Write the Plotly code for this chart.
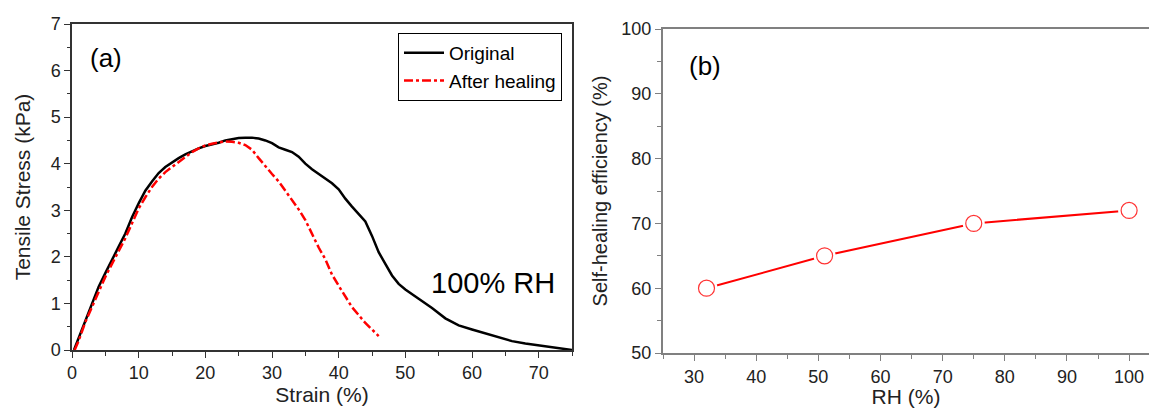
import plotly.graph_objects as go

# ---- Panel (a) data: tensile stress-strain curves ----
orig_strain = [0.3, 1, 2, 3, 4, 5, 6, 7, 8, 9, 10, 11, 12, 13, 14, 15, 16, 17, 18, 19, 20,
               21, 22, 23, 24, 25, 26, 27, 28, 29, 30, 31, 32, 33, 34, 35, 36, 37, 38, 39, 40,
               41, 42, 43, 44, 45, 46, 47, 48, 49, 50, 52, 54, 56, 58, 60, 62, 64, 66, 68,
               70, 72, 75]
orig_stress = [0.0, 0.25, 0.62, 1.0, 1.36, 1.65, 1.95, 2.22, 2.5, 2.85, 3.15, 3.42, 3.62, 3.8,
               3.93, 4.03, 4.12, 4.2, 4.27, 4.33, 4.38, 4.41, 4.45, 4.5, 4.53, 4.55, 4.56, 4.56,
               4.54, 4.5, 4.44, 4.35, 4.3, 4.25, 4.15, 4.0, 3.88, 3.78, 3.68, 3.58, 3.45, 3.25,
               3.08, 2.92, 2.76, 2.45, 2.1, 1.85, 1.6, 1.42, 1.3, 1.1, 0.9, 0.68, 0.53, 0.44,
               0.36, 0.27, 0.19, 0.14, 0.1, 0.06, 0.0]

heal_strain = [0.4, 1, 2, 3, 4, 5, 6, 7, 8, 9, 10, 11, 12, 13, 14, 15, 16, 17, 18, 19, 20,
               21, 22, 23, 24, 25, 26, 27, 28, 29, 30, 31, 32, 33, 34, 35, 36, 37, 38, 39, 40,
               41, 42, 43, 44, 45, 46]
heal_stress = [0.0, 0.2, 0.6, 0.92, 1.25, 1.57, 1.85, 2.12, 2.4, 2.72, 3.04, 3.28, 3.5, 3.68,
               3.82, 3.93, 4.04, 4.15, 4.25, 4.33, 4.39, 4.43, 4.46, 4.48, 4.47, 4.45, 4.4,
               4.3, 4.12, 3.94, 3.78, 3.62, 3.42, 3.24, 3.02, 2.79, 2.48, 2.2, 1.95, 1.62,
               1.38, 1.15, 0.92, 0.75, 0.58, 0.44, 0.3]

# ---- Panel (b) data: self-healing efficiency vs RH ----
rh = [32, 51, 75, 100]
efficiency = [60, 65, 70, 72]

FONT = "Liberation Sans, Arial, sans-serif"
TXT = "#222222"

fig = go.Figure()

fig.add_trace(go.Scatter(x=orig_strain, y=orig_stress, mode="lines", name="Original",
                         line=dict(color="black", width=2.5), xaxis="x", yaxis="y"))
fig.add_trace(go.Scatter(x=heal_strain, y=heal_stress, mode="lines", name="After healing",
                         line=dict(color="red", width=2.5, dash="dashdot"), xaxis="x", yaxis="y"))

fig.add_trace(go.Scatter(x=rh, y=efficiency, mode="lines", showlegend=False,
                         line=dict(color="red", width=2), xaxis="x2", yaxis="y2"))
fig.add_trace(go.Scatter(x=rh, y=efficiency, mode="markers", showlegend=False,
                         marker=dict(symbol="circle", size=22, color="white",
                                     line=dict(width=0)), xaxis="x2", yaxis="y2"))
fig.add_trace(go.Scatter(x=rh, y=efficiency, mode="markers", showlegend=False,
                         marker=dict(symbol="circle-open", size=16, color="#ff3333",
                                     line=dict(width=1.2)), xaxis="x2", yaxis="y2"))

axis_common = dict(showline=True, mirror=True, ticks="outside", showgrid=False,
                   zeroline=False, automargin=False,
                   tickfont=dict(size=18, color=TXT, family=FONT))

fig.update_layout(
    template="none",
    width=1149, height=408,
    margin=dict(l=0, r=0, t=0, b=0),
    paper_bgcolor="white", plot_bgcolor="white",
    font=dict(family=FONT, color=TXT),
    xaxis=dict(domain=[72/1149, 572/1149], range=[0, 75], anchor="y",
               tick0=0, dtick=10, ticklen=6, linecolor="#333", linewidth=1.5, tickcolor="#333",
               minor=dict(dtick=5, ticks="outside", ticklen=4, tickcolor="#333"),
               title=dict(text="Strain (%)", font=dict(size=21, color=TXT), standoff=4),
               **axis_common),
    yaxis=dict(domain=[58/408, 384/408], range=[0, 7], anchor="x",
               tick0=0, dtick=1, ticklen=6, linecolor="#333", linewidth=1.5, tickcolor="#333",
               minor=dict(dtick=0.5, ticks="outside", ticklen=3, tickcolor="#333"),
               title=dict(text="Tensile Stress (kPa)", font=dict(size=21, color=TXT), standoff=14),
               **axis_common),
    xaxis2=dict(domain=[663/1149, 1.0], range=[25, 103.2], anchor="y2",
                tick0=0, dtick=10, ticklen=6, linecolor="#808080", linewidth=2, tickcolor="#808080",
                minor=dict(dtick=5, ticks="outside", ticklen=4, tickcolor="#808080"),
                title=dict(text="RH (%)", font=dict(size=21, color=TXT), standoff=4),
                **axis_common),
    yaxis2=dict(domain=[55/408, 379/408], range=[50, 100], anchor="x2",
                tick0=0, dtick=10, ticklen=6, linecolor="#808080", linewidth=2, tickcolor="#808080",
                minor=dict(dtick=5, ticks="outside", ticklen=4, tickcolor="#808080"),
                title=dict(text="Self-healing efficiency (%)", font=dict(size=20, color=TXT), standoff=8),
                **axis_common),
    legend=dict(x=562/1149, y=1 - 33/408, xanchor="right", yanchor="top",
                bordercolor="black", borderwidth=1, bgcolor="white",
                font=dict(size=19, color="black", family=FONT),
                tracegroupgap=0, itemwidth=40),
    annotations=[
        dict(text="(a)", x=88/1149, y=1 - 58/408, xref="paper", yref="paper",
             xanchor="left", yanchor="middle", showarrow=False,
             font=dict(size=26, color="black", family=FONT)),
        dict(text="100% RH", x=557/1149, y=1 - 283/408, xref="paper", yref="paper",
             xanchor="right", yanchor="middle", showarrow=False,
             font=dict(size=29, color="black", family=FONT)),
        dict(text="(b)", x=687/1149, y=1 - 66/408, xref="paper", yref="paper",
             xanchor="left", yanchor="middle", showarrow=False,
             font=dict(size=26, color="black", family=FONT)),
    ],
)

fig.write_html("out.html", config={"displayModeBar": False},
               post_script="document.body.style.margin='0';document.body.style.padding='0';"
                           "document.body.style.overflow='hidden';")
